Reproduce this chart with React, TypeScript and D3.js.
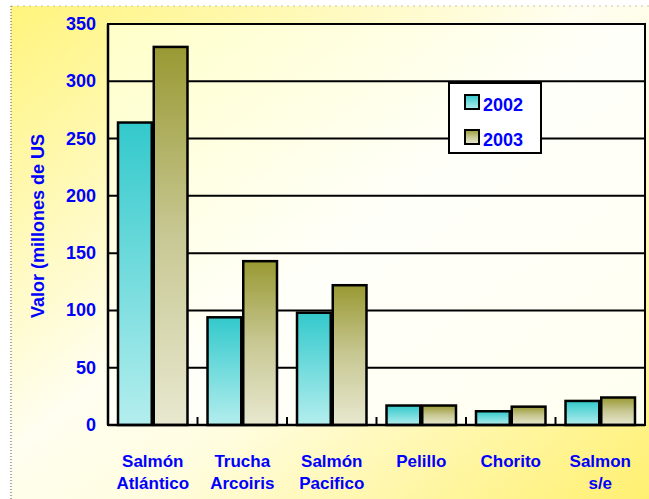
import React from 'react';
import * as d3 from 'd3';

const categories = [
  ['Salmón', 'Atlántico'],
  ['Trucha', 'Arcoiris'],
  ['Salmón', 'Pacifico'],
  ['Pelillo'],
  ['Chorito'],
  ['Salmon', 's/e'],
];
const series = ['2002', '2003'];
const values2002 = [264, 94, 98, 17, 12, 21];
const values2003 = [330, 143, 122, 17, 16, 24];
const yTicks = [0, 50, 100, 150, 200, 250, 300, 350];

export default function App() {
  const width = 649, height = 499;
  const plot = { left: 108, right: 645, top: 24, bottom: 425 };
  const x = d3.scaleBand<number>().domain(d3.range(categories.length)).range([plot.left, plot.right]).paddingInner(0).paddingOuter(0);
  const inner = d3.scaleBand<string>().domain(series).range([0, x.bandwidth()]).paddingOuter(0.28).paddingInner(0.056);
  const y = d3.scaleLinear().domain([0, 350]).range([plot.bottom, plot.top]);
  const blue = '#0000ff';
  const font = 'Arial, "Liberation Sans", sans-serif';
  const data = [values2002, values2003];
  const fills = ['url(#g2002)', 'url(#g2003)'];

  return (
    <svg width={width} height={height} style={{ position: 'absolute', left: 0, top: 0, display: 'block' }}>
      <defs>
        <linearGradient id="bg" x1="0" y1="0" x2="1" y2="1">
          <stop offset="0" stopColor="#fff47c" />
          <stop offset="0.45" stopColor="#fffef0" />
          <stop offset="0.6" stopColor="#fffde0" />
          <stop offset="1" stopColor="#fff070" />
        </linearGradient>
        <linearGradient id="plotbg" x1="0" y1="0" x2="1" y2="1">
          <stop offset="0" stopColor="#ffffc8" />
          <stop offset="0.5" stopColor="#fffffa" />
          <stop offset="1" stopColor="#fffff0" />
        </linearGradient>
        <linearGradient id="g2002" x1="0" y1="0" x2="0" y2="1">
          <stop offset="0" stopColor="#33c9cc" />
          <stop offset="1" stopColor="#b4eeee" />
        </linearGradient>
        <linearGradient id="g2003" x1="0" y1="0" x2="0" y2="1">
          <stop offset="0" stopColor="#999933" />
          <stop offset="0.5" stopColor="#c8c894" />
          <stop offset="1" stopColor="#e8e8d0" />
        </linearGradient>
      </defs>
      <rect x={0} y={0} width={width} height={height} fill="#ffffff" />
      <rect x={11} y={6} width={width - 11} height={height - 6} fill="url(#bg)" />
      <line x1={11} y1={6} x2={width} y2={6} stroke="#c8c8a0" strokeWidth={1} strokeDasharray="2,4" />
      <line x1={11} y1={6} x2={11} y2={height} stroke="#555" strokeWidth={1} strokeDasharray="1,2" />

      <rect x={plot.left} y={plot.top} width={plot.right - plot.left} height={plot.bottom - plot.top} fill="url(#plotbg)" stroke="#000" strokeWidth={2} />
      {yTicks.filter(t => t > 0).map(t => (
        <line key={t} x1={plot.left} x2={plot.right} y1={y(t)} y2={y(t)} stroke="#000" strokeWidth={2} />
      ))}

      {categories.map((c, i) => (
        <g key={i}>
          {series.map((s, j) => {
            const bx = (x(i) as number) + (inner(s) as number);
            return (
              <rect key={s} x={bx} y={y(data[j][i])} width={inner.bandwidth()} height={y(0) - y(data[j][i])}
                fill={fills[j]} stroke="#000" strokeWidth={2.5} />
            );
          })}
        </g>
      ))}

      {d3.range(1, categories.length).map(i => (
        <line key={i} x1={x(i)} x2={x(i)} y1={plot.bottom} y2={plot.bottom - 8} stroke="#000" strokeWidth={2} />
      ))}
      <line x1={plot.left} x2={plot.right} y1={plot.bottom} y2={plot.bottom} stroke="#000" strokeWidth={2.5} />
      <line x1={plot.left} x2={plot.left} y1={plot.top} y2={plot.bottom} stroke="#000" strokeWidth={2.5} />

      {yTicks.map(t => (
        <text key={t} x={96} y={y(t) + 6} textAnchor="end" fill={blue} fontFamily={font} fontWeight="bold" fontSize={18}>{t}</text>
      ))}
      <text transform={`translate(44, 226) rotate(-90)`} textAnchor="middle" fill={blue} fontFamily={font} fontWeight="bold" fontSize={18}>Valor (millones de US</text>

      {categories.map((c, i) => (
        <text key={i} x={(x(i) as number) + x.bandwidth() / 2} textAnchor="middle" fill={blue} fontFamily={font} fontWeight="bold" fontSize={17}>
          {c.map((line, k) => (
            <tspan key={k} x={(x(i) as number) + x.bandwidth() / 2} y={467 + k * 22}>{line}</tspan>
          ))}
        </text>
      ))}

      <rect x={449} y={83} width={92} height={70} fill="#fff" stroke="#000" strokeWidth={2} />
      {series.map((s, j) => (
        <g key={s}>
          <rect x={465} y={95 + j * 35} width={14} height={14} fill={fills[j]} stroke="#000" strokeWidth={2} />
          <text x={483} y={111 + j * 35} fill={blue} fontFamily={font} fontWeight="bold" fontSize={18}>{s}</text>
        </g>
      ))}
    </svg>
  );
}
